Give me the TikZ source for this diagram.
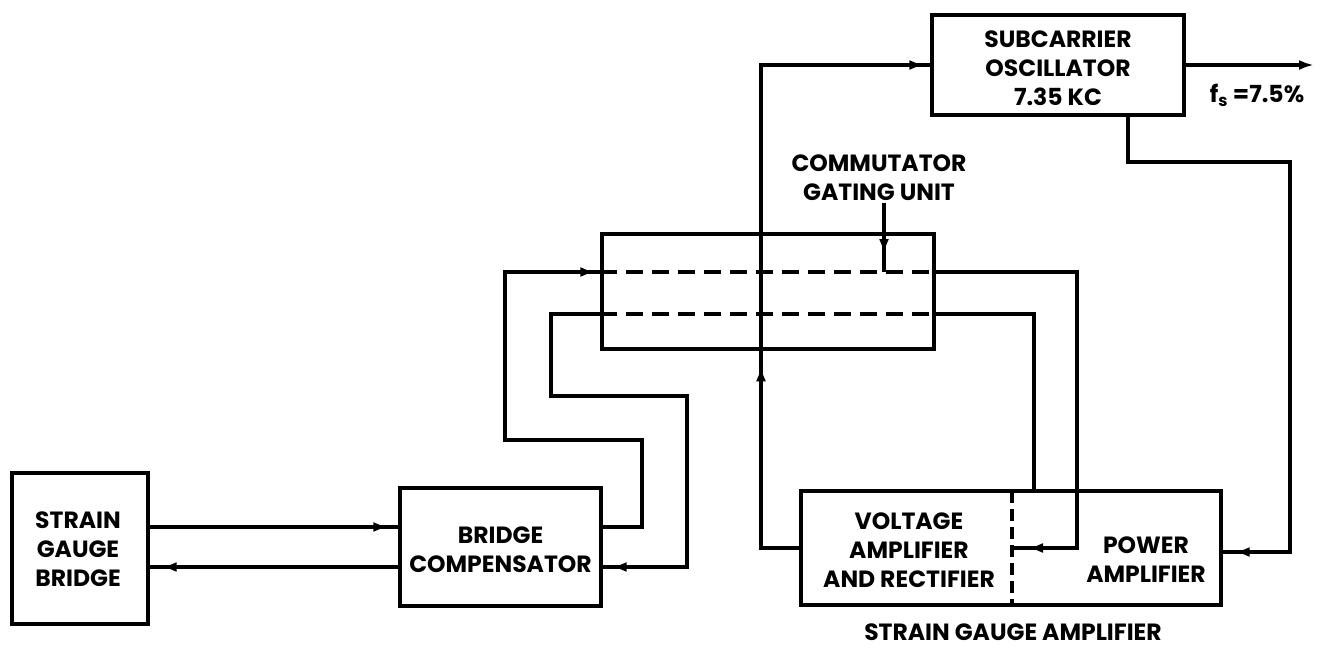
\documentclass[tikz,border=0pt]{standalone}
\usepackage{fontspec}
\setmainfont{Poppins}
\usetikzlibrary{arrows.meta,decorations.markings,calc}
\begin{document}
\begin{tikzpicture}[x=1pt,y=-1pt,
  every node/.style={font=\fontsize{23.5}{29}\selectfont\bfseries, align=center, inner sep=2pt},
  blk/.style={draw, line width=3.4pt, rectangle, inner sep=0pt},
  conn/.style={draw, line width=3.4pt, line join=miter},
  dsh/.style={draw, line width=3.6pt, dash pattern=on 17pt off 9pt},
  tipat/.style={postaction={decorate,decoration={markings,mark=at position #1 with {\arrow{Latex[length=15pt,width=10pt]}}}}},
  endtip/.style={-{Latex[length=15pt,width=10pt]}}
]
\useasboundingbox (0,0) rectangle (1320,649);

% level coordinates
\coordinate (yU) at (0,527);
\coordinate (yL) at (0,567);
\coordinate (yA) at (0,272);
\coordinate (yB) at (0,314);
\coordinate (yP) at (0,552);

% blocks
\node[blk, minimum width=136pt, minimum height=151pt] (sgb) at (80,548.5) {};
\node (sgbt) at (78,549) {STRAIN\\GAUGE\\BRIDGE};
\node[blk, minimum width=201pt, minimum height=118pt] (comp) at (500.5,547) {};
\node (compt) at (500.5,550) {BRIDGE\\COMPENSATOR};
\node[blk, minimum width=332pt, minimum height=115pt] (comm) at (768,291.5) {};
\node[blk, minimum width=252pt, minimum height=100pt] (sco) at (1058,65) {};
\node (scot) at (1058,68) {SUBCARRIER\\OSCILLATOR\\7.35 KC};
\node[blk, minimum width=420pt, minimum height=114pt] (amp) at (1011,548) {};
\node (volt) at (909,550) {VOLTAGE\\AMPLIFIER\\AND RECTIFIER};
\node (pow) at (1146,559.5) {POWER\\AMPLIFIER};
\node (gating) at (879,177.5) {COMMUTATOR\\GATING UNIT};
\node (sgalabel) at (1013,632) {STRAIN GAUGE AMPLIFIER};
\node (fs) at (1257,95) {f\textsubscript{s} =7.5\%};

% named free ends
\coordinate (div) at (1012,548);
\coordinate (divtop) at (1012,491);
\coordinate (divbot) at (1012,605);
\coordinate (out) at (1314,65);
\coordinate (gt) at (884,272);

% amplifier divider
\draw[line width=3.2pt, dash pattern=on 12pt off 6pt] (divtop) -- (divbot);

% commutator dashed channels
\draw[dsh] (comm.west |- yA) -- (comm.east |- yA);
\draw[dsh] (comm.west |- yB) -- (comm.east |- yB);

% connectors
\draw[conn, tipat=-10pt] (sgb.east |- yU) -- (comp.west |- yU);
\draw[conn, tipat=-12pt] (comp.west |- yL) -- (sgb.east |- yL);
\draw[conn, tipat=-5pt] (comp.east |- yU) -- (642,527) -- (642,440) -- (505,440) -- (505,272) -- (comm.west |- yA);
\draw[conn, tipat=-16pt] (comm.east |- yA) -- (1077,272) -- (1077,548) -- (div);
\draw[conn] (amp.north -| 1034,0) -- (1034,314) -- (comm.east |- yB);
\draw[conn, tipat=-9pt] (comm.west |- yB) -- (551,314) -- (551,396) -- (687,396) -- (687,567) -- (comp.east |- yL);
\draw[conn, tipat=220pt, tipat=-6pt] (amp.west) -- (761,548) -- (761,65) -- (sco.west);
\draw[conn, endtip] (sco.east) -- (out);
\draw[conn, tipat=-12pt] (sco.south -| 1128,0) -- (1128,162) -- (1290,162) -- (1290,552) -- (amp.east |- yP);
\draw[conn, tipat=-18pt] (gating.south -| gt) -- (gt);
\end{tikzpicture}
\end{document}
